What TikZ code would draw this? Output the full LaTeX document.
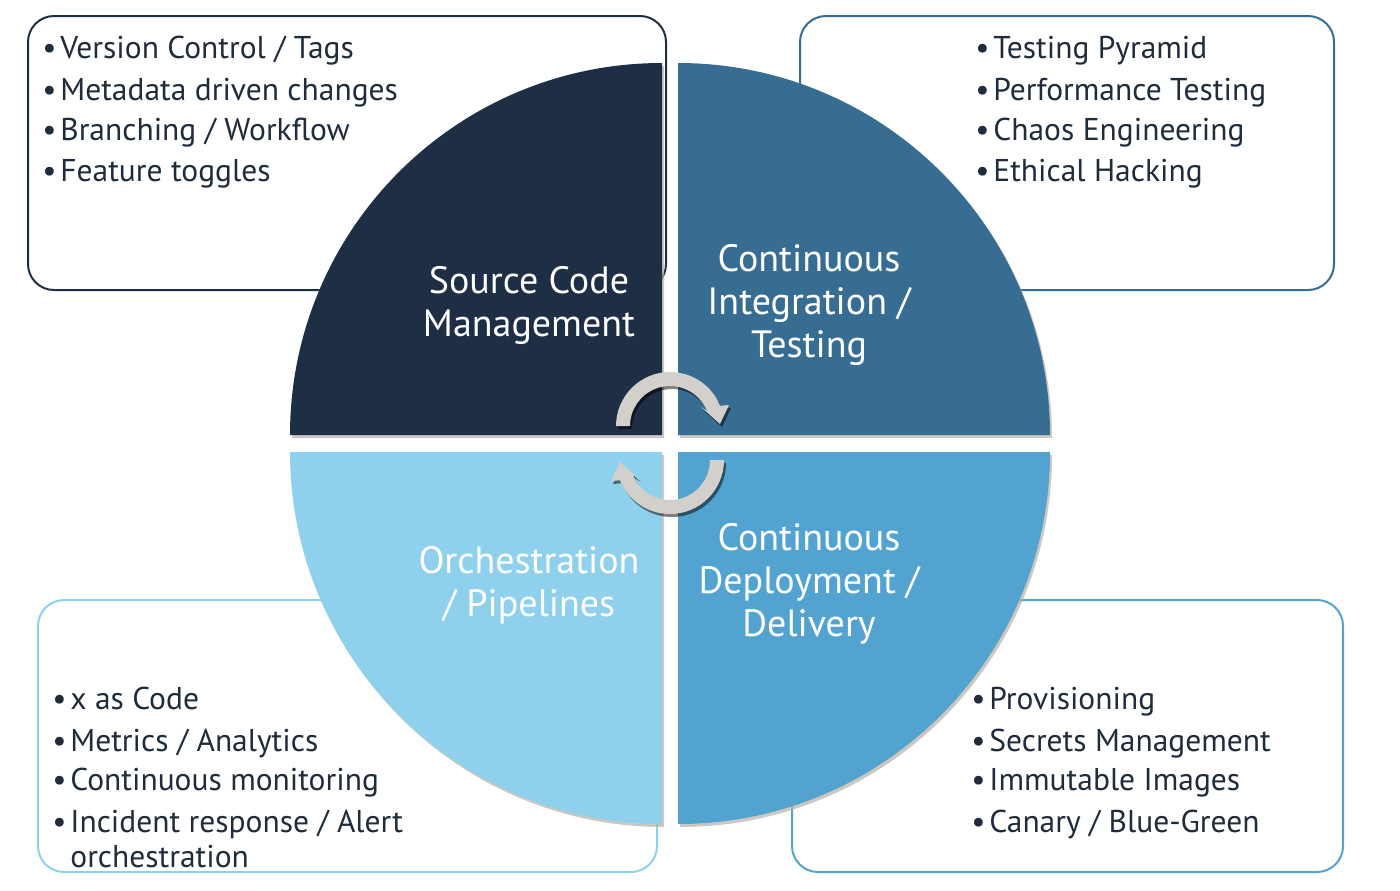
\documentclass[tikz,border=0pt]{standalone}
\usepackage{fontspec}
\setmainfont{PT Sans}
\definecolor{tlc}{HTML}{1E2F45}
\definecolor{trc}{HTML}{376D92}
\definecolor{blc}{HTML}{8FD1EC}
\definecolor{brc}{HTML}{52A3CF}
\definecolor{txtc}{HTML}{1F2C3C}
\definecolor{arrc}{HTML}{D3CFCB}
\definecolor{shc}{HTML}{B8B0A8}
\begin{document}
\begin{tikzpicture}[x=0.5pt,y=-0.5pt,
  listbox/.style={rounded corners=13pt, line width=1pt, fill=white},
  listline/.style={anchor=base west, inner sep=0pt, text=txtc, font=\fontsize{15.75}{18}\selectfont},
  quadlabel/.style={align=center, text=white, inner sep=0pt, font=\fontsize{19}{21.5}\selectfont},
  quadshadow/.style={fill=shc, opacity=0.7},
  arrowshape/.style={fill=arrc},
  arrowshadow/.style={fill=black, opacity=0.5}]
\useasboundingbox (0,0) rectangle (1400,890);
% list boxes
\draw[listbox, draw=tlc] (28,16) rectangle (666,290);
\draw[listbox, draw=trc] (800,16) rectangle (1334,290);
\draw[listbox, draw=blc] (38,600) rectangle (657,872);
\draw[listbox, draw=brc] (792,600) rectangle (1343,872);
% quadrant shadows
\begin{scope}[shift={(2,3)}]
\fill[quadshadow] (662,435) -- (290,435) arc[start angle=180,end angle=270,radius=372] -- cycle;
\fill[quadshadow] (678,435) -- (678,63) arc[start angle=270,end angle=360,radius=372] -- cycle;
\fill[quadshadow] (678,452) -- (1050,452) arc[start angle=0,end angle=90,radius=372] -- cycle;
\fill[quadshadow] (662,452) -- (662,824) arc[start angle=90,end angle=180,radius=372] -- cycle;
\end{scope}
% quadrants
\fill[tlc] (662,435) -- (290,435) arc[start angle=180,end angle=270,radius=372] -- cycle;
\fill[trc] (678,435) -- (678,63) arc[start angle=270,end angle=360,radius=372] -- cycle;
\fill[brc] (678,452) -- (1050,452) arc[start angle=0,end angle=90,radius=372] -- cycle;
\fill[blc] (662,452) -- (662,824) arc[start angle=90,end angle=180,radius=372] -- cycle;
% quadrant labels
\node[quadlabel] (scm) at (529,305) {Source Code\\Management};
\node[quadlabel] (ci) at (809,305) {Continuous\\Integration /\\Testing};
\node[quadlabel] (orch) at (529,585) {Orchestration\\/ Pipelines};
\node[quadlabel] (cd) at (809,584) {Continuous\\Deployment /\\Delivery};
% cycle arrows
\fill[arrowshadow, shift={(2,3)}] (616,426) arc[start angle=180,end angle=338,radius=54]
  -- (729,405) -- (720,424) -- (701,407) -- (707.1,411) arc[start angle=338,end angle=180,radius=40] -- cycle;
\fill[arrowshape] (616,426) arc[start angle=180,end angle=338,radius=54]
  -- (729,405) -- (720,424) -- (701,407) -- (707.1,411) arc[start angle=338,end angle=180,radius=40] -- cycle;
\begin{scope}[rotate around={180:(670,443)}]
\fill[arrowshadow, shift={(-2,-3)}] (616,426) arc[start angle=180,end angle=338,radius=54]
  -- (729,405) -- (720,424) -- (701,407) -- (707.1,411) arc[start angle=338,end angle=180,radius=40] -- cycle;
\fill[arrowshape] (616,426) arc[start angle=180,end angle=338,radius=54]
  -- (729,405) -- (720,424) -- (701,407) -- (707.1,411) arc[start angle=338,end angle=180,radius=40] -- cycle;
\end{scope}
% lists
\newcommand{\bul}{\makebox[9pt][l]{\textbullet}}
\node[listline] (tl1) at (42,58) {\bul Version Control / Tags};
\node[listline] (tl2) at (42,100) {\bul Metadata driven changes};
\node[listline] (tl3) at (42,140) {\bul Branching / Workflow};
\node[listline] (tl4) at (42,181) {\bul Feature toggles};
\node[listline] (tr1) at (975,58) {\bul Testing Pyramid};
\node[listline] (tr2) at (975,100) {\bul Performance Testing};
\node[listline] (tr3) at (975,140) {\bul Chaos Engineering};
\node[listline] (tr4) at (975,181) {\bul Ethical Hacking};
\node[listline] (bl1) at (52,709) {\bul x as Code};
\node[listline] (bl2) at (52,751) {\bul Metrics / Analytics};
\node[listline] (bl3) at (52,790) {\bul Continuous monitoring};
\node[listline] (bl4) at (52,832) {\bul Incident response / Alert};
\node[listline] (bl5) at (70,867) {orchestration};
\node[listline] (br1) at (971,709) {\bul Provisioning};
\node[listline] (br2) at (971,751) {\bul Secrets Management};
\node[listline] (br3) at (971,790) {\bul Immutable Images};
\node[listline] (br4) at (971,832) {\bul Canary / Blue-Green};
\end{tikzpicture}
\end{document}
